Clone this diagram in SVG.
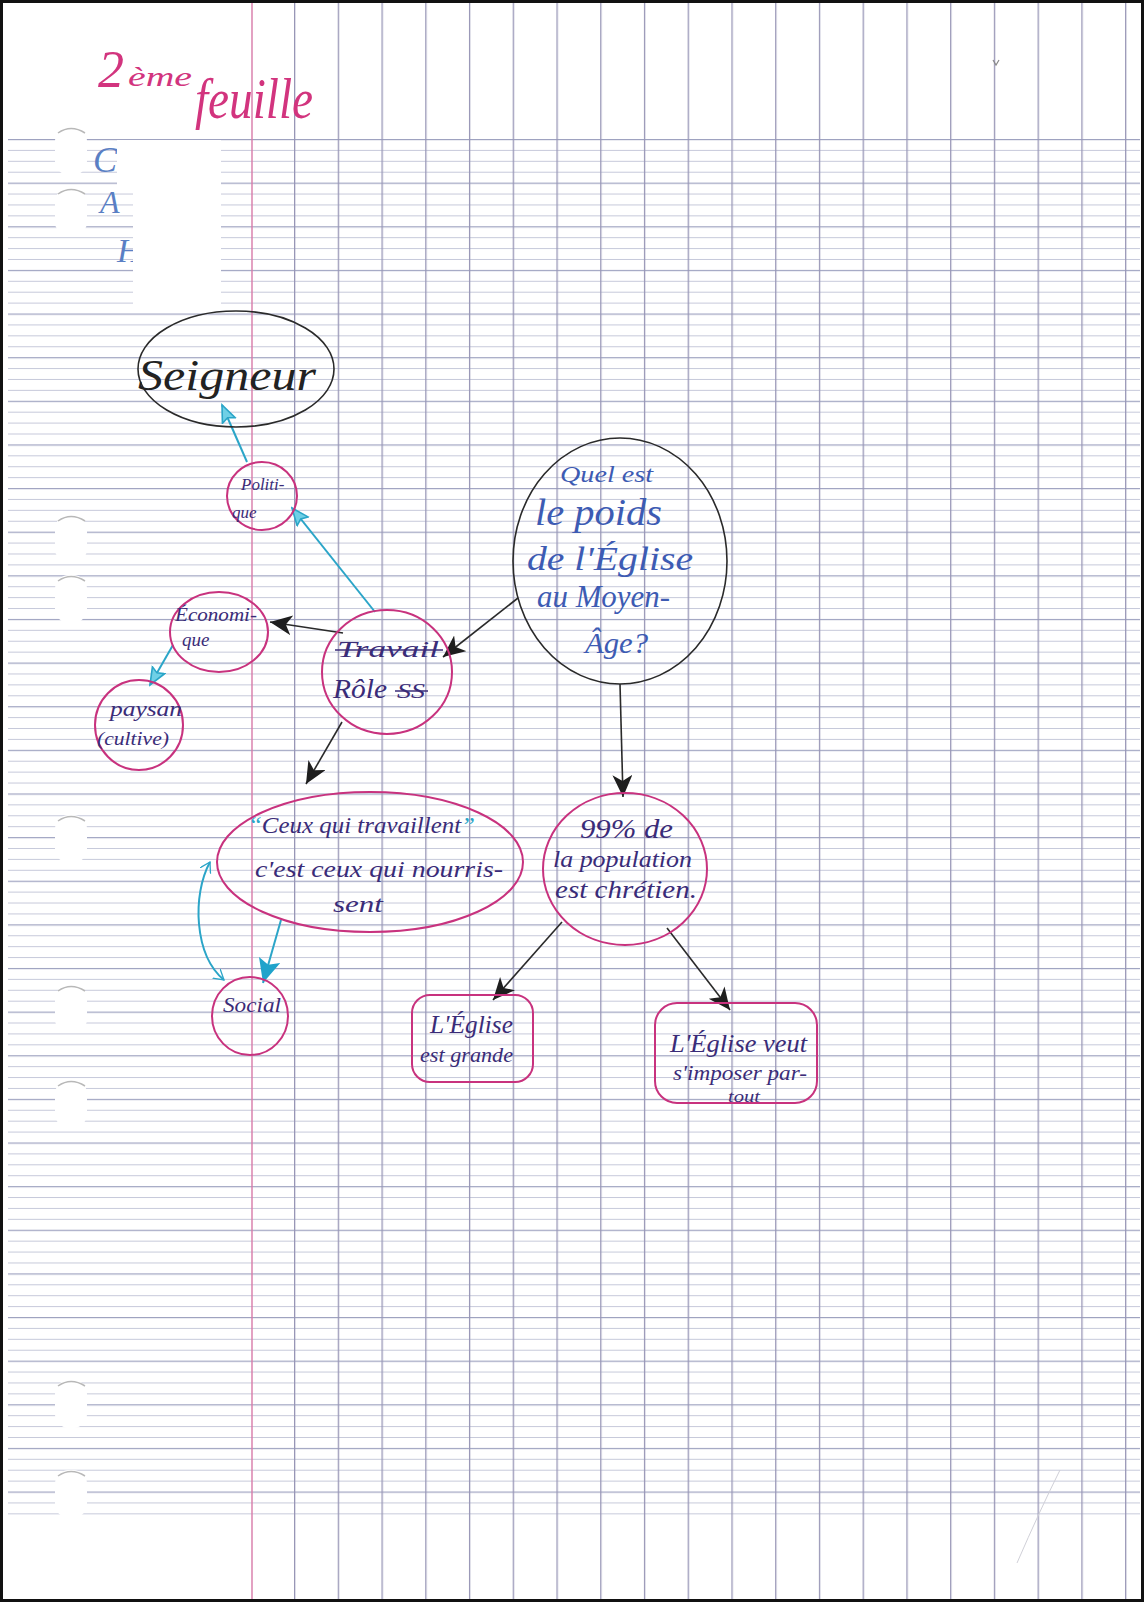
<svg xmlns="http://www.w3.org/2000/svg" width="1144" height="1602" viewBox="0 0 1144 1602">
<defs>
<style>
.hand{font-family:"Liberation Serif","DejaVu Serif",serif;font-style:italic}
.ink{fill:#3a2c78}
.blue{fill:#3d5bb3}
.pinkink{fill:#d2347e}
.black{fill:#222}
.pk{fill:none;stroke:#c8327e;stroke-width:2}
.bk{fill:none;stroke:#2a2a2a;stroke-width:1.6}
.arrow{fill:none;stroke:#2a2a2a;stroke-width:1.6}
.carrow{fill:none;stroke:#2ba5c8;stroke-width:2}
</style>
<pattern id="hl" x="0" y="139" width="1144" height="43.63" patternUnits="userSpaceOnUse">
<rect x="0" y="0" width="1144" height="1.2" fill="#9ea2c0"/>
<rect x="0" y="10.91" width="1144" height="1" fill="#c6c9da"/>
<rect x="0" y="21.82" width="1144" height="1" fill="#c6c9da"/>
<rect x="0" y="32.72" width="1144" height="1" fill="#c6c9da"/>
</pattern>
<pattern id="vl" x="294" y="0" width="43.74" height="1602" patternUnits="userSpaceOnUse">
<rect x="0" y="0" width="1.3" height="1602" fill="#9896b6"/>
</pattern>
<g id="hole">
<rect x="0" y="0" width="32" height="48" rx="14" fill="#fff"/>
<path d="M3 6 Q16 -3 30 6" fill="none" stroke="#b8b8b8" stroke-width="1.5"/>
</g>
<marker id="ab" markerUnits="userSpaceOnUse" markerWidth="24" markerHeight="22" refX="22" refY="10" orient="auto">
<path d="M0 0 L22 10 L0 20 L6 10 Z" fill="#1e1e1e"/>
</marker>
<marker id="ac" markerUnits="userSpaceOnUse" markerWidth="20" markerHeight="18" refX="18" refY="8" orient="auto">
<path d="M1 1 L18 8 L1 15 L4 8 Z" fill="#6fd0e6" stroke="#2ba5c8" stroke-width="1.6"/>
</marker>
<marker id="acb" markerUnits="userSpaceOnUse" markerWidth="26" markerHeight="24" refX="24" refY="11" orient="auto">
<path d="M0 0 L24 11 L0 22 L5 11 Z" fill="#1fa3cb"/>
</marker>
<marker id="chev" markerUnits="userSpaceOnUse" markerWidth="14" markerHeight="14" refX="10" refY="6" orient="auto-start-reverse">
<path d="M0 0 L10 6 L0 12" fill="none" stroke="#2ba5c8" stroke-width="1.3"/>
</marker>
</defs>

<g id="paper">
<rect x="0" y="0" width="1144" height="1602" fill="#fff"/>
<rect x="8" y="138.5" width="1132" height="1377" fill="url(#hl)"/>
<rect x="293" y="3" width="846" height="1597" fill="url(#vl)"/>
<line x1="252" y1="3" x2="252" y2="1600" stroke="#d77aa8" stroke-width="1.4"/>
<use href="#hole" x="55" y="127"/>
<use href="#hole" x="55" y="188"/>
<use href="#hole" x="55" y="515"/>
<use href="#hole" x="55" y="575"/>
<use href="#hole" x="55" y="815"/>
<use href="#hole" x="55" y="985"/>
<use href="#hole" x="55" y="1080"/>
<use href="#hole" x="55" y="1380"/>
<use href="#hole" x="55" y="1470"/>
<path d="M993 60 L996 65 L999 60" fill="none" stroke="#888" stroke-width="1.2"/>
<path d="M1060 1470 Q1040 1510 1017 1563" fill="none" stroke="#d0d0d8" stroke-width="1"/>
<rect x="1.5" y="1.5" width="1141" height="1599" fill="none" stroke="#111" stroke-width="3"/>
</g>

<g id="title">
<text class="hand pinkink" x="98" y="87" font-size="52">2</text>
<text class="hand pinkink" x="128" y="86" font-size="28" textLength="64" lengthAdjust="spacingAndGlyphs">ème</text>
<text class="hand pinkink" x="195" y="118" font-size="58" textLength="118" lengthAdjust="spacingAndGlyphs">feuille</text>
</g>

<g id="header">
<text class="hand" fill="#5a7fc4" x="93" y="172" font-size="36">C</text>
<text class="hand" fill="#5a7fc4" x="100" y="213" font-size="32">A</text>
<text class="hand" fill="#5a7fc4" x="117" y="262" font-size="34">H</text>
<rect x="117" y="140" width="104" height="50" fill="#fff"/>
<rect x="133" y="140" width="88" height="166" fill="#fff"/>
</g>

<g id="connectors">
<path class="arrow" d="M518 598 L443 657" marker-end="url(#ab)"/>
<path class="arrow" d="M343 633 L270 622" marker-end="url(#ab)"/>
<path class="arrow" d="M342 722 L306 784" marker-end="url(#ab)"/>
<path class="arrow" d="M620 684 L623 797" marker-end="url(#ab)"/>
<path class="arrow" d="M562 922 L493 1000" marker-end="url(#ab)"/>
<path class="arrow" d="M667 928 L730 1010" marker-end="url(#ab)"/>
<path class="carrow" d="M247 462 L222 405" marker-end="url(#ac)"/>
<path class="carrow" d="M375 612 L292 508" marker-end="url(#ac)"/>
<path class="carrow" d="M173 645 L150 685" marker-end="url(#ac)"/>
<path class="carrow" d="M281 920 L263 983" stroke-width="2.6" marker-end="url(#acb)"/>
<path class="carrow" d="M210 862 C192 895 194 955 224 980" stroke-width="1.3" marker-start="url(#chev)" marker-end="url(#chev)"/>
</g>

<g id="seigneur">
<ellipse class="bk" cx="236" cy="369" rx="98" ry="58"/>
<text class="hand black" x="138" y="390" font-size="44" textLength="178" lengthAdjust="spacingAndGlyphs">Seigneur</text>
</g>

<g id="politique">
<ellipse class="pk" cx="262" cy="496" rx="35" ry="34"/>
<text class="hand ink" x="241" y="490" font-size="17">Politi-</text>
<text class="hand ink" x="232" y="518" font-size="17">que</text>
</g>

<g id="economique">
<ellipse class="pk" cx="219" cy="632" rx="49" ry="40"/>
<text class="hand ink" x="175" y="621" font-size="19" textLength="82" lengthAdjust="spacingAndGlyphs">Économi-</text>
<text class="hand ink" x="182" y="646" font-size="19">que</text>
</g>

<g id="paysan">
<ellipse class="pk" cx="139" cy="725" rx="44" ry="45"/>
<text class="hand ink" x="110" y="716" font-size="22" textLength="72" lengthAdjust="spacingAndGlyphs">paysan</text>
<text class="hand ink" x="97" y="745" font-size="19" textLength="72" lengthAdjust="spacingAndGlyphs">(cultive)</text>
</g>

<g id="role">
<ellipse class="pk" cx="387" cy="672" rx="65" ry="62"/>
<text class="hand ink" x="337" y="657" font-size="24" textLength="102" lengthAdjust="spacingAndGlyphs">Travail</text>
<line x1="335" y1="650" x2="443" y2="650" stroke="#3a2c78" stroke-width="1.6"/>
<text class="hand ink" x="333" y="698" font-size="27" textLength="54" lengthAdjust="spacingAndGlyphs">Rôle</text>
<text class="hand ink" x="397" y="698" font-size="20" textLength="28" lengthAdjust="spacingAndGlyphs">SS</text>
<line x1="395" y1="691" x2="428" y2="691" stroke="#3a2c78" stroke-width="1.6"/>
</g>

<g id="question">
<ellipse class="bk" cx="620" cy="561" rx="107" ry="123"/>
<text class="hand blue" x="560" y="482" font-size="24" textLength="93" lengthAdjust="spacingAndGlyphs">Quel est</text>
<text class="hand blue" x="535" y="525" font-size="38" textLength="127" lengthAdjust="spacingAndGlyphs">le poids</text>
<text class="hand blue" x="527" y="570" font-size="34" textLength="166" lengthAdjust="spacingAndGlyphs">de l'Église</text>
<text class="hand blue" x="537" y="607" font-size="32" textLength="133" lengthAdjust="spacingAndGlyphs">au Moyen-</text>
<text class="hand blue" x="585" y="653" font-size="30" textLength="63" lengthAdjust="spacingAndGlyphs">Âge?</text>
</g>

<g id="chretien">
<ellipse class="pk" cx="625" cy="869" rx="82" ry="76"/>
<text class="hand ink" x="580" y="838" font-size="28" textLength="93" lengthAdjust="spacingAndGlyphs">99% de</text>
<text class="hand ink" x="553" y="867" font-size="24" textLength="139" lengthAdjust="spacingAndGlyphs">la population</text>
<text class="hand ink" x="555" y="898" font-size="26" textLength="142" lengthAdjust="spacingAndGlyphs">est chrétien.</text>
</g>

<g id="ceux">
<ellipse class="pk" cx="370" cy="862" rx="153" ry="70"/>
<text class="hand ink" x="248" y="833" font-size="24" textLength="227" lengthAdjust="spacingAndGlyphs"><tspan fill="#2ba5c8">“</tspan>Ceux qui travaillent<tspan fill="#2ba5c8">”</tspan></text>
<text class="hand ink" x="255" y="877" font-size="24" textLength="248" lengthAdjust="spacingAndGlyphs">c'est ceux qui nourris-</text>
<text class="hand ink" x="333" y="912" font-size="24" textLength="50" lengthAdjust="spacingAndGlyphs">sent</text>
</g>

<g id="social">
<ellipse class="pk" cx="250" cy="1016" rx="38" ry="39"/>
<text class="hand ink" x="223" y="1012" font-size="20" textLength="58" lengthAdjust="spacingAndGlyphs">Social</text>
</g>

<g id="grande">
<rect class="pk" x="412" y="995" width="121" height="87" rx="18"/>
<text class="hand ink" x="430" y="1033" font-size="26" textLength="83" lengthAdjust="spacingAndGlyphs">L'Église</text>
<text class="hand ink" x="420" y="1062" font-size="20" textLength="93" lengthAdjust="spacingAndGlyphs">est grande</text>
</g>

<g id="partout">
<rect class="pk" x="655" y="1003" width="162" height="100" rx="22"/>
<text class="hand ink" x="670" y="1052" font-size="26" textLength="137" lengthAdjust="spacingAndGlyphs">L'Église veut</text>
<text class="hand ink" x="673" y="1080" font-size="20" textLength="134" lengthAdjust="spacingAndGlyphs">s'imposer par-</text>
<text class="hand ink" x="728" y="1102" font-size="16" textLength="32" lengthAdjust="spacingAndGlyphs">tout</text>
</g>
</svg>
